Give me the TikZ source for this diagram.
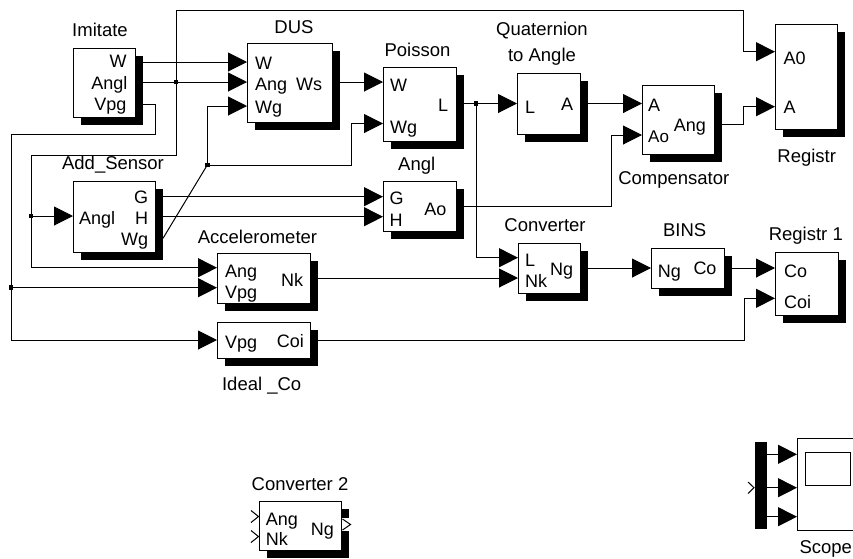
\documentclass[tikz,border=0pt]{standalone}
\usepackage{fontspec}
\setmainfont{Liberation Sans}
\usetikzlibrary{arrows.meta,shadows}
\begin{document}
\begin{tikzpicture}[x=1pt,y=-1pt,
  blk/.style={draw, fill=white, line width=1pt, inner sep=0pt, outer sep=0pt, anchor=north west,
    drop shadow={shadow xshift=8pt, shadow yshift=-8pt, opacity=1, fill=black}},
  plainblk/.style={draw, fill=white, line width=1pt, inner sep=0pt, outer sep=0pt, anchor=north west},
  wire/.style={line width=1pt},
  arr/.style={wire, -{Triangle[length=19pt,width=19pt]}},
  plab/.style={font=\fontsize{18}{20}\selectfont, inner sep=0pt},
  inl/.style={plab, anchor=base west},
  outl/.style={plab, anchor=base east},
  bname/.style={font=\fontsize{18.5}{26.5}\selectfont, inner sep=0pt, anchor=base},
  jdot/.style={fill=black, inner sep=0pt, minimum size=4.5pt, outer sep=0pt}]
\clip (0,0) rectangle (853,558);
\fill[white] (0,0) rectangle (853,558);

% ---------- blocks ----------
\node[blk, minimum width=62pt, minimum height=69pt] (imitate) at (73,48) {};
\node[blk, minimum width=85pt, minimum height=79pt] (dus) at (247,43) {};
\node[blk, minimum width=73pt, minimum height=74pt] (poisson) at (383,67) {};
\node[blk, minimum width=63pt, minimum height=61pt] (quat) at (517,73) {};
\node[blk, minimum width=72pt, minimum height=69pt] (comp) at (642,85) {};
\node[blk, minimum width=62pt, minimum height=105pt] (registr) at (775,24) {};
\node[blk, minimum width=82pt, minimum height=71pt] (addsens) at (73,181) {};
\node[blk, minimum width=73pt, minimum height=50pt] (angl) at (383,181) {};
\node[blk, minimum width=62pt, minimum height=50pt] (conv) at (518,243) {};
\node[blk, minimum width=93pt, minimum height=50pt] (accel) at (217,253) {};
\node[blk, minimum width=93pt, minimum height=36pt] (ideal) at (217,322) {};
\node[blk, minimum width=73pt, minimum height=40pt] (bins) at (651,248) {};
\node[blk, minimum width=63pt, minimum height=63pt] (registr1) at (775,252) {};
\node[blk, minimum width=82pt, minimum height=49pt] (conv2) at (259,501) {};
\node[plainblk, minimum width=90pt, minimum height=92pt] (scope) at (797,438) {};
\node[draw, fill=white, line width=1pt, inner sep=0pt, anchor=north west, minimum width=45pt, minimum height=33pt] (screen) at (805,452) {};
\node[fill=black, inner sep=0pt, anchor=north west, minimum width=12pt, minimum height=87pt] (mux) at (755,442) {};

% ---------- block names ----------
\node[bname] (n1) at (100,36.7) {Imitate};
\node[bname] (n2) at (294,33) {DUS};
\node[bname] (n3) at (417.5,56) {Poisson};
\node[bname, anchor=north, align=center] (n4) at (542,21.5) {Quaternion\\to Angle};
\node[bname] (n5) at (673.8,184.3) {Compensator};
\node[bname] (n6) at (806.7,162.7) {Registr};
\node[bname] (n7) at (113,169.5) {Add\_Sensor};
\node[bname] (n8) at (416.7,170) {Angl};
\node[bname] (n9) at (257.5,243.3) {Accelerometer};
\node[bname] (n10) at (545,231.7) {Converter};
\node[bname] (n11) at (684.7,236.7) {BINS};
\node[bname] (n12) at (805.8,240) {Registr 1};
\node[bname] (n13) at (261.7,390) {Ideal \_Co};
\node[bname] (n14) at (300,490) {Converter 2};
\node[bname] (n15) at (825.8,553) {Scope};

% ---------- port labels ----------
\node[outl] at (126.7,67.8) {W};
\node[outl] at (127.7,89.5) {Angl};
\node[outl] at (126.7,110.5) {Vpg};
\node[inl] at (255,69.3) {W};
\node[inl] at (255,90.5) {Ang};
\node[inl] at (255,113) {Wg};
\node[outl] at (322.3,90.2) {Ws};
\node[inl] at (390,91.5) {W};
\node[inl] at (390,133.2) {Wg};
\node[outl] at (448.3,111) {L};
\node[inl] at (525,113) {L};
\node[outl] at (573.3,110.5) {A};
\node[inl] at (648,111.5) {A};
\node[inl, font=\fontsize{17}{20}\selectfont] at (648,142) {Ao};
\node[outl] at (706,131.5) {Ang};
\node[inl] at (783.3,64) {A0};
\node[inl] at (783.3,113.2) {A};
\node[inl] at (79,224.5) {Angl};
\node[outl] at (148.3,203.2) {G};
\node[outl] at (148.3,224.5) {H};
\node[outl] at (148.3,245.5) {Wg};
\node[inl] at (389.3,204.3) {G};
\node[inl] at (389.3,226.2) {H};
\node[outl] at (446.7,215.3) {Ao};
\node[inl] at (525,266.5) {L};
\node[inl] at (525,287.5) {Nk};
\node[outl] at (573.3,275.3) {Ng};
\node[inl] at (225,277.5) {Ang};
\node[inl] at (225,298.5) {Vpg};
\node[outl] at (303.3,286.2) {Nk};
\node[inl] at (225,348.5) {Vpg};
\node[outl] at (304,347.5) {Coi};
\node[inl] at (657.7,277.5) {Ng};
\node[outl] at (716.7,274.5) {Co};
\node[inl] at (784,277.5) {Co};
\node[inl] at (784,308.2) {Coi};
\node[inl] at (265.7,525.3) {Ang};
\node[inl] at (265.7,545.3) {Nk};
\node[outl] at (334,535.3) {Ng};

% ---------- port coordinates ----------
\coordinate (imW) at (143,62);
\coordinate (imA) at (143,82);
\coordinate (imV) at (143,104.3);
\coordinate (dusW) at (247,62);
\coordinate (dusA) at (247,82);
\coordinate (dusWg) at (247,106);
\coordinate (dusWs) at (340,82);
\coordinate (poisW) at (383,82);
\coordinate (poisWg) at (383,123.5);
\coordinate (poisL) at (464,103.5);
\coordinate (quatL) at (517,103.5);
\coordinate (quatA) at (588,103.5);
\coordinate (compA) at (642,103.5);
\coordinate (compAo) at (642,135);
\coordinate (compAng) at (722,124);
\coordinate (regA0) at (775,51.7);
\coordinate (regA) at (775,106.7);
\coordinate (asAngl) at (73,216);
\coordinate (asG) at (163,196.7);
\coordinate (asH) at (163,216.7);
\coordinate (asWg) at (163,238.3);
\coordinate (anglG) at (383,196.7);
\coordinate (anglH) at (383,216.7);
\coordinate (anglAo) at (464,206);
\coordinate (convL) at (518,257.7);
\coordinate (convNk) at (518,278);
\coordinate (convNg) at (588,268);
\coordinate (accAng) at (217,267.7);
\coordinate (accVpg) at (217,287.7);
\coordinate (accNk) at (318,278);
\coordinate (idealVpg) at (217,340);
\coordinate (idealCoi) at (318,340);
\coordinate (binsNg) at (651,268);
\coordinate (binsCo) at (732,268);
\coordinate (reg1Co) at (775,268);
\coordinate (reg1Coi) at (775,298.3);
% bends
\coordinate (k0) at (743.3,10.7);
\coordinate (k1) at (31,155);
\coordinate (k2) at (155,134.3);
\coordinate (k3) at (11,134.3);
\coordinate (k4) at (351.7,165);
\coordinate (k5) at (611.7,206);
\coordinate (k6) at (743.7,124);
\coordinate (k7) at (744.3,340);
% mux / scope
\coordinate (m1) at (767,454.3);
\coordinate (m2) at (767,487.7);
\coordinate (m3) at (767,516.7);
\coordinate (s1) at (797,454.3);
\coordinate (s2) at (797,487.7);
\coordinate (s3) at (797,516.7);

% ---------- junctions ----------
\node[jdot] (j1) at (176,82) {};
\node[jdot] (j2) at (31,216) {};
\node[jdot] (j3) at (11,287.7) {};
\node[jdot] (j4) at (207.3,165) {};
\node[jdot] (j5) at (476,103.5) {};

% ---------- wires ----------
\draw[arr] (imW) -- (dusW);
\draw[arr] (imA) -- (dusA);
\draw[arr] (j1.center) |- (k0) |- (regA0);
\draw[arr] (j1.center) |- (k1) |- (accAng);
\draw[arr] (j2.center) -- (asAngl);
\draw[arr] (imV) -| (k2) -- (k3) |- (idealVpg);
\draw[arr] (j3.center) -- (accVpg);
\draw[wire] (asWg) -- (j4.center);
\draw[arr] (j4.center) |- (dusWg);
\draw[arr] (j4.center) -- (k4) |- (poisWg);
\draw[arr] (asG) -- (anglG);
\draw[arr] (asH) -- (anglH);
\draw[arr] (dusWs) -- (poisW);
\draw[arr] (poisL) -- (quatL);
\draw[arr] (j5.center) |- (convL);
\draw[arr] (quatA) -- (compA);
\draw[arr] (anglAo) -- (k5) |- (compAo);
\draw[arr] (compAng) -- (k6) |- (regA);
\draw[arr] (accNk) -- (convNk);
\draw[arr] (convNg) -- (binsNg);
\draw[arr] (binsCo) -- (reg1Co);
\draw[arr] (idealCoi) -- (k7) |- (reg1Coi);
\draw[arr] (m1) -- (s1);
\draw[arr] (m2) -- (s2);
\draw[arr] (m3) -- (s3);

% ---------- unconnected ports ----------
\draw[wire] (251,510.5) -- (258.5,516.5) -- (251,522.5);
\draw[wire] (251,530.5) -- (258.5,536.5) -- (251,542.5);
\fill[white] (341.6,518) rectangle (352.5,531);
\draw[wire] (342.5,519) -- (350.5,524.5) -- (342.5,530);
\draw[wire] (748,482) -- (754,487.7) -- (748,493.5);
\end{tikzpicture}
\end{document}
